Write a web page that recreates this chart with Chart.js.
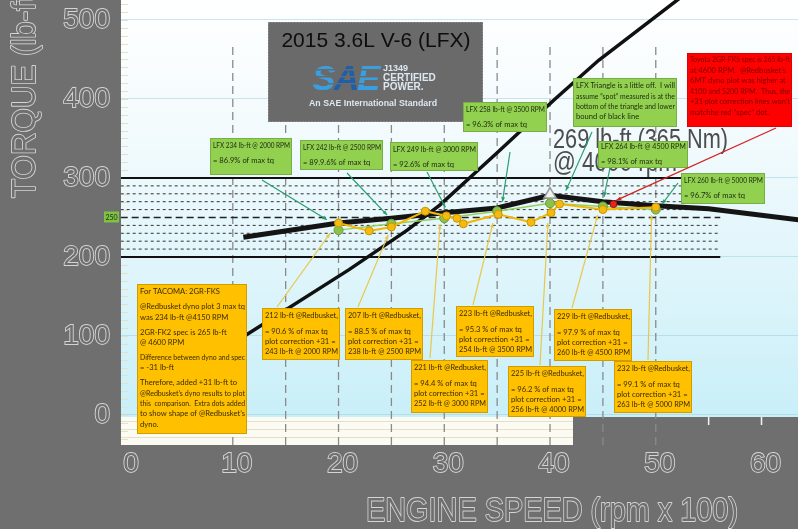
<!DOCTYPE html>
<html>
<head>
<meta charset="utf-8">
<script src="https://cdn.jsdelivr.net/npm/chart.js@4.4.1/dist/chart.umd.min.js"></script>
<style>
  html, body { margin: 0; padding: 0; background: #6f6f6f; }
  #wrap { width: 798px; height: 529px; position: relative; }
</style>
</head>
<body>
<div id="wrap"><canvas id="chart"></canvas></div>
<script>
// axis ticks (rpm x 100, lb-ft)
const rpmTicks = [0, 10, 20, 30, 40, 50, 60];
const torqueTicks = [0, 100, 200, 300, 400, 500];

// black LFX torque curve (published)
const lfxCurveRpm = [11, 20, 25, 30, 35, 40, 45, 50, 55, 63.5];
const lfxCurveTq = [225, 243, 249, 256, 262, 278, 270, 265, 261, 247];

// steep black power curve
const powerRpm = [11, 21, 26.5, 29.6, 35, 40.4, 44.6, 52.5];
const powerVal = [99, 184, 234, 266, 332, 399, 449, 530];

// green LFX readings
const lfxRpm = [20, 25, 30, 35, 40, 45, 50];
const lfxTq = [234, 242, 249, 258, 268, 264, 260];

// yellow @Redbusket dyno +31 correction
const dynoRpm = [20, 22.9, 25, 28.2, 30.2, 31.2, 31.8, 35.1, 38.2, 40.1, 40.9, 45, 50];
const dynoTq = [243, 233, 238, 258, 252, 249, 242, 254, 244, 256, 267, 260, 263];

// Toyota spec dot and LFX peak triangle
const specRpm = [46];
const specTq = [267];
const peakRpm = [40];
const peakTq = [279];

// reference lines
const refSolid = [200, 300];
const refDashed = [210, 220, 230, 240, 260, 270, 280, 290];
const refMid = [250];
const refSpan = [-0.6, 56.1];
const vertRpm = [10, 15, 20, 25, 30, 35, 40, 45, 50];
const vertSpan = [-38, 471];

const pts = (xs, ys) => xs.map((x, i) => ({ x: x, y: ys[i] }));

const datasets = [
  { data: pts(specRpm, specTq), showLine: false, pointRadius: 3.5,
    pointBackgroundColor: '#e8241c', pointBorderColor: '#a01010', pointBorderWidth: 1 },
  { data: pts(peakRpm, peakTq), showLine: false, pointStyle: 'triangle', pointRadius: 7,
    pointBackgroundColor: '#f2f2f2', pointBorderColor: '#9a9a9a', pointBorderWidth: 1.5 },
  { data: pts(dynoRpm, dynoTq), borderColor: '#f2b705', borderWidth: 2, pointRadius: 4,
    pointBackgroundColor: '#f5b90f', pointBorderColor: '#c99700', pointBorderWidth: 1 },
  { data: pts(lfxRpm, lfxTq), borderColor: '#94d060', borderWidth: 1.5, pointRadius: 4.5,
    pointBackgroundColor: '#8bc34a', pointBorderColor: '#6a9a3a', pointBorderWidth: 1 },
  { data: pts(lfxCurveRpm, lfxCurveTq), borderColor: '#141414', borderWidth: 5, pointRadius: 0 },
  { data: pts(powerRpm, powerVal), borderColor: '#111111', borderWidth: 3.5, pointRadius: 0 }
];
refSolid.forEach(v => datasets.push({ data: pts(refSpan, [v, v]), borderColor: '#111',
  borderWidth: 2.2, pointRadius: 0 }));
refMid.forEach(v => datasets.push({ data: pts(refSpan, [v, v]), borderColor: '#222',
  borderWidth: 1.6, borderDash: [7, 4], pointRadius: 0 }));
refDashed.forEach(v => datasets.push({ data: pts(refSpan, [v, v]), borderColor: '#333',
  borderWidth: 1, borderDash: [3, 3], pointRadius: 0 }));
vertRpm.forEach(v => datasets.push({ data: pts([v, v], vertSpan), borderColor: '#8a8a8a',
  borderWidth: 1.3, borderDash: [8, 5], pointRadius: 0 }));

// annotation boxes (pixel layout)
const GREEN = { bg: '#92d050', border: '#5f8f3a', color: '#1d2a12', top: 8, lh: 10, gap: 5 };
const ORANGE = { bg: '#ffc000', border: '#a07a00', color: '#3a2c00', top: 8, lh: 10, gap: 6 };
const boxes = [
  Object.assign({}, GREEN, { x: 210, y: 138, w: 82, h: 37, lines: ['LFX 234 lb-ft @ 2000 RPM', '', '= 86.9% of max tq'] }),
  Object.assign({}, GREEN, { x: 300, y: 140, w: 83, h: 30, lines: ['LFX 242 lb-ft @ 2500 RPM', '', '= 89.9.6% of max tq'] }),
  Object.assign({}, GREEN, { x: 390, y: 142, w: 88, h: 29, lines: ['LFX 249 lb-ft @ 3000 RPM', '', '= 92.6% of max tq'] }),
  Object.assign({}, GREEN, { x: 463, y: 102, w: 84, h: 30, lines: ['LFX 258 lb-ft @ 3500 RPM', '', '= 96.3% of max tq'] }),
  Object.assign({}, GREEN, { x: 573, y: 78, w: 104, h: 49, lh: 10.3, lines: ['LFX Triangle is a little off.  I will', 'assume \u201cspot\u201d measured is at the', 'bottom of the triangle and lower', 'bound of black line'] }),
  Object.assign({}, GREEN, { x: 598, y: 141, w: 90, h: 27, top: 6, lines: ['LFX 264 lb-ft @ 4500 RPM', '', '= 98.1% of max tq'] }),
  Object.assign({}, GREEN, { x: 681, y: 173, w: 84, h: 31, lines: ['LFX 260 lb-ft @ 5000 RPM', '', '= 96.7% of max tq'] }),
  { bg: '#ff0000', border: '#c00000', color: '#7a0000', top: 7, lh: 10.5, gap: 0, x: 687, y: 53, w: 105, h: 74,
    lines: ['Toyota 2GR-FKS spec is 265 lb-ft', 'at 4600 RPM.  @Redbusket\u2019s', '6MT dyno plot was higher at', '4100 and 5200 RPM.  Thus, the', '+31 plot correction lines won\u2019t', 'matchhe red \u201cspec\u201d dot.'] },
  Object.assign({}, ORANGE, { x: 137, y: 284, w: 110, h: 150, lh: 10.4, gap: 4.5,
    lines: ['For TACOMA: 2GR-FKS', '', '@Redbusket dyno plot 3 max tq', 'was 234 lb-ft @4150 RPM', '', '2GR-FK2 spec is 265 lb-ft', '@ 4600 RPM', '', 'Difference between dyno and spec', '= -31 lb-ft', '', 'Therefore, added +31 lb-ft to', '@Redbusket\u2019s dyno results to plot', 'this  comparison.  Extra dots added', 'to show shape of @Redbusket\u2019s', 'dyno.'] }),
  Object.assign({}, ORANGE, { x: 262, y: 308, w: 78, h: 52, lines: ['212 lb-ft @Redbusket,', '', '= 90.6 % of max tq', 'plot correction +31 =', '243 lb-ft @ 2000 RPM'] }),
  Object.assign({}, ORANGE, { x: 345, y: 308, w: 78, h: 52, lines: ['207 lb-ft @Redbusket,', '', '= 88.5 % of max tq', 'plot correction +31 =', '238 lb-ft @ 2500 RPM'] }),
  Object.assign({}, ORANGE, { x: 411, y: 360, w: 77, h: 53, lines: ['221 lb-ft @Redbusket,', '', '= 94.4 % of max tq', 'plot correction +31 =', '252 lb-ft @ 3000 RPM'] }),
  Object.assign({}, ORANGE, { x: 456, y: 306, w: 78, h: 51, lines: ['223 lb-ft @Redbusket,', '', '= 95.3 % of max tq', 'plot correction +31 =', '254 lb-ft @ 3500 RPM'] }),
  Object.assign({}, ORANGE, { x: 508, y: 366, w: 78, h: 51, lines: ['225 lb-ft @Redbusket,', '', '= 96.2 % of max tq', 'plot correction +31 =', '256 lb-ft @ 4000 RPM'] }),
  Object.assign({}, ORANGE, { x: 554, y: 309, w: 78, h: 52, lines: ['229 lb-ft @Redbusket,', '', '= 97.9 % of max tq', 'plot correction +31 =', '260 lb-ft @ 4500 RPM'] }),
  Object.assign({}, ORANGE, { x: 614, y: 361, w: 78, h: 52, lines: ['232 lb-ft @Redbusket,', '', '= 99.1 % of max tq', 'plot correction +31 =', '263 lb-ft @ 5000 RPM'] })
];

// leader lines: start at a box (pixels), end near a point (rpm, lb-ft)
const leaders = [
  { from: [262, 180], to: [18.9, 247], color: '#2a9d6f' },
  { from: [347, 173], to: [24.6, 253], color: '#2a9d6f' },
  { from: [427, 172], to: [30.1, 263], color: '#2a9d6f' },
  { from: [510, 152], to: [35.5, 270], color: '#2a9d6f' },
  { from: [592, 132], to: [41.5, 284], color: '#2a9d6f' },
  { from: [610, 168], to: [45.1, 276], color: '#2a9d6f' },
  { from: [678, 183], to: [50.6, 267], color: '#2a9d6f' },
  { from: [776, 128], to: [46.3, 272], color: '#d42020' },
  { from: [277, 307], to: [19.2, 230], color: '#e8c84a' },
  { from: [358, 307], to: [24.7, 228], color: '#e8c84a' },
  { from: [430, 358], to: [29.6, 241], color: '#e8c84a' },
  { from: [473, 305], to: [34.6, 243], color: '#e8c84a' },
  { from: [540, 365], to: [39.8, 243], color: '#e8c84a' },
  { from: [572, 308], to: [44.5, 253], color: '#e8c84a' },
  { from: [648, 360], to: [49.6, 253], color: '#e8c84a' }
];

function outlineText(ctx, text, x, y, width) {
  ctx.lineJoin = 'round';
  ctx.strokeStyle = '#d4d4d4';
  ctx.lineWidth = 1.8;
  ctx.strokeText(text, x, y, width);
  ctx.fillStyle = '#6f6f6f';
  ctx.fillText(text, x, y, width);
}

function drawBox(ctx, b) {
  ctx.fillStyle = b.bg;
  ctx.fillRect(b.x, b.y, b.w, b.h);
  ctx.setLineDash([1, 1]);
  ctx.strokeStyle = b.border;
  ctx.lineWidth = 1;
  ctx.strokeRect(b.x + 0.5, b.y + 0.5, b.w - 1, b.h - 1);
  ctx.setLineDash([]);
  ctx.fillStyle = b.color;
  ctx.font = '7.6px Lato';
  ctx.textAlign = 'left';
  ctx.textBaseline = 'middle';
  let ty = b.y + b.top;
  b.lines.forEach(t => {
    if (t === '') { ty += b.gap; return; }
    ctx.fillText(t, b.x + 3, ty, b.w - 5);
    ty += b.lh;
  });
}

const decor = {
  id: 'decor',
  beforeDraw(chart) {
    const { ctx, chartArea: a, scales } = chart;
    const ys = scales.y;
    ctx.save();
    ctx.fillStyle = '#6f6f6f';
    ctx.fillRect(0, 0, chart.width, chart.height);
    // light blue plot image
    const g = ctx.createLinearGradient(0, 0, 0, 417);
    g.addColorStop(0, '#ffffff');
    g.addColorStop(0.35, '#f1fafd');
    g.addColorStop(1, '#c9eff8');
    ctx.fillStyle = g;
    ctx.fillRect(a.left, 0, a.right - a.left, 417);
    // cream strip under it on the left
    ctx.fillStyle = '#fcfbf3';
    ctx.fillRect(a.left, 417, 573 - a.left, a.bottom - 417);
    ctx.strokeStyle = '#e6e0c6';
    ctx.lineWidth = 1;
    [421.5, 429.5, 437.5].forEach(py => {
      ctx.beginPath(); ctx.moveTo(a.left, py); ctx.lineTo(573, py); ctx.stroke();
    });
    // small beige ticks on the left edge
    for (let v = -30; v <= 520; v += 10) {
      const py = Math.round(ys.getPixelForValue(v)) + 0.5;
      ctx.beginPath(); ctx.moveTo(a.left, py); ctx.lineTo(a.left + 7, py); ctx.stroke();
    }
    // white tick marks below right side
    ctx.strokeStyle = '#f4f4f4';
    ctx.lineWidth = 1.5;
    [55, 60].forEach(v => {
      const px = scales.x.getPixelForValue(v);
      ctx.beginPath(); ctx.moveTo(px, 417); ctx.lineTo(px, 425); ctx.stroke();
    });
    ctx.restore();
  },
  afterDatasetsDraw(chart) {
    const { ctx, scales } = chart;
    const xs = scales.x, ys = scales.y;
    ctx.save();

    // peak caption
    ctx.fillStyle = '#4d4d4d';
    ctx.font = '27px "Liberation Sans"';
    ctx.textAlign = 'left';
    ctx.textBaseline = 'alphabetic';
    ctx.fillText('269 lb-ft (365 Nm)', 553, 148, 175);
    ctx.fillText('@ 4000 rpm', 553, 171, 124);

    // title box with SAE mark
    ctx.fillStyle = '#6a6a6a';
    ctx.fillRect(268, 22, 215, 100);
    ctx.setLineDash([1, 2]);
    ctx.strokeStyle = '#a0a0a0';
    ctx.strokeRect(268.5, 22.5, 214, 99);
    ctx.setLineDash([]);
    ctx.fillStyle = '#0d0d0d';
    ctx.font = '21px "Liberation Sans"';
    ctx.textAlign = 'center';
    ctx.textBaseline = 'middle';
    ctx.fillText('2015 3.6L V-6 (LFX)', 376, 41, 200);
    ctx.font = 'italic bold 35px "Liberation Sans"';
    ctx.textAlign = 'left';
    ctx.textBaseline = 'alphabetic';
    ctx.fillStyle = '#3a9fe0';
    ctx.fillText('S', 312, 90);
    ctx.fillStyle = '#1d5fa8';
    ctx.fillText('A', 334, 90);
    ctx.fillStyle = '#3a9fe0';
    ctx.fillText('E', 357, 90);
    ctx.fillStyle = '#6a6a6a';
    [69, 76, 83].forEach(py => ctx.fillRect(310, py, 72, 1.5));
    ctx.fillStyle = '#dde7f0';
    ctx.font = 'bold 9px "Liberation Sans"';
    ctx.fillText('J1349', 383, 71, 30);
    ctx.font = 'bold 10px "Liberation Sans"';
    ctx.fillText('CERTIFIED', 383, 81, 55);
    ctx.fillText('POWER.', 383, 90, 45);
    ctx.font = 'bold 9px "Liberation Sans"';
    ctx.textAlign = 'center';
    ctx.fillText('An SAE International Standard', 373, 106, 128);

    boxes.forEach(b => drawBox(ctx, b));

    // "250" tag on the left
    const p250 = ys.getPixelForValue(250);
    ctx.fillStyle = '#7dc243';
    ctx.fillRect(104, p250 - 6, 15, 11);
    ctx.fillStyle = '#1d2a12';
    ctx.font = '7px Lato';
    ctx.textAlign = 'center';
    ctx.textBaseline = 'middle';
    ctx.fillText('250', 111.5, p250);

    // leader lines with small arrowheads
    leaders.forEach(l => {
      const x1 = l.from[0], y1 = l.from[1];
      const x2 = xs.getPixelForValue(l.to[0]), y2 = ys.getPixelForValue(l.to[1]);
      const ang = Math.atan2(y2 - y1, x2 - x1);
      ctx.strokeStyle = l.color;
      ctx.fillStyle = l.color;
      ctx.lineWidth = 1.2;
      ctx.beginPath(); ctx.moveTo(x1, y1); ctx.lineTo(x2, y2); ctx.stroke();
      ctx.beginPath();
      ctx.moveTo(x2, y2);
      ctx.lineTo(x2 - 5 * Math.cos(ang - 0.4), y2 - 5 * Math.sin(ang - 0.4));
      ctx.lineTo(x2 - 5 * Math.cos(ang + 0.4), y2 - 5 * Math.sin(ang + 0.4));
      ctx.closePath(); ctx.fill();
    });
    ctx.restore();
  },
  afterDraw(chart) {
    const ctx = chart.ctx;
    ctx.save();
    ctx.font = '33px "Liberation Sans"';
    ctx.textBaseline = 'alphabetic';
    ctx.textAlign = 'left';
    outlineText(ctx, 'ENGINE SPEED (rpm x 100)', 366, 521, 372);
    ctx.translate(35, 198);
    ctx.rotate(-Math.PI / 2);
    outlineText(ctx, 'TORQUE (lb-ft)', 0, 0, 215);
    ctx.restore();
  }
};

new Chart(document.getElementById('chart'), {
  type: 'line',
  data: { datasets: datasets },
  plugins: [decor],
  options: {
    responsive: true,
    maintainAspectRatio: false,
    animation: false,
    layout: { padding: 0, autoPadding: false },
    plugins: { legend: { display: false }, tooltip: { enabled: false } },
    scales: {
      x: {
        type: 'linear', min: -0.57, max: 63.45,
        afterFit: s => { s.height = 84; s.paddingLeft = 0; s.paddingRight = 0; },
        afterBuildTicks: s => { s.ticks = rpmTicks.map(v => ({ value: v })); },
        grid: { display: false, drawTicks: false },
        border: { display: false },
        ticks: {
          padding: 2, labelOffset: 4, maxRotation: 0, autoSkip: false,
          color: '#6f6f6f', textStrokeColor: '#d4d4d4', textStrokeWidth: 1.8,
          font: { family: 'Liberation Sans', size: 28 }
        }
      },
      y: {
        type: 'linear', min: -38, max: 525.3,
        afterFit: s => { s.width = 121; s.paddingTop = 0; s.paddingBottom = 0; },
        afterBuildTicks: s => { s.ticks = torqueTicks.map(v => ({ value: v })); },
        grid: { color: 'rgba(160,208,226,0.55)', drawTicks: false },
        border: { display: false },
        ticks: {
          padding: 11,
          color: '#6f6f6f', textStrokeColor: '#d4d4d4', textStrokeWidth: 1.8,
          font: { family: 'Liberation Sans', size: 28 }
        }
      }
    }
  }
});
</script>
</body>
</html>
